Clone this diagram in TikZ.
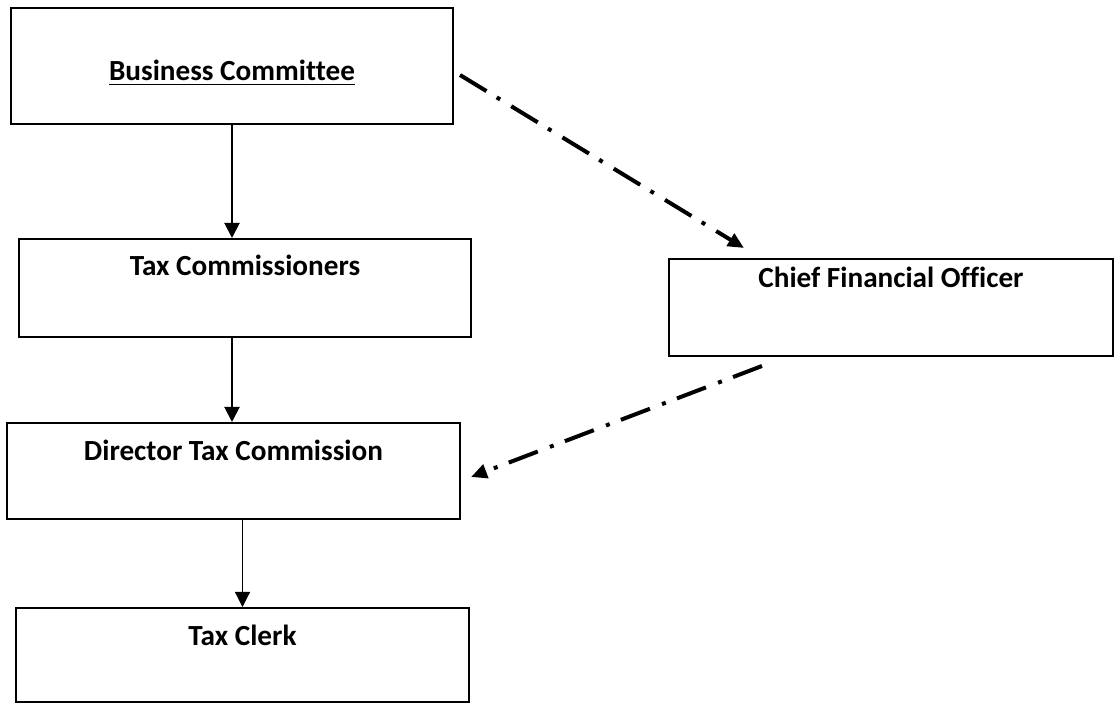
\documentclass[tikz,border=0pt]{standalone}
\usepackage{fontspec}
\setmainfont{Carlito}[Ligatures=NoCommon]
\usetikzlibrary{positioning, arrows.meta, calc}

\tikzset{
  office/.style={draw, line width=1pt, inner sep=0pt, anchor=north,
    font=\bfseries\fontsize{14.6}{17}\selectfont},
  reports/.style={-{Triangle[length=7.5pt,width=7.5pt]}, line width=1pt},
  advises/.style={-{Triangle[length=8pt,width=7pt]}, line width=2pt,
    dash pattern=on 15.5pt off 6pt on 2pt off 6.5pt},
}

\begin{document}
\begin{tikzpicture}[x=0.5pt, y=-0.5pt]
  \useasboundingbox (0,0) rectangle (1114,704);
  \node[office, minimum width=221pt, text height=36.5pt, text depth=21.5pt] (bc) at (232,7) {\underline{Business Committee}};
  \node[office, minimum width=226pt, text height=18.5pt, text depth=30.5pt] (tc) at (245,238) {Tax Commissioners};
  \node[office, minimum width=222pt, text height=14.5pt, text depth=34pt] (cfo) at (891,258) {Chief Financial Officer};
  \node[office, minimum width=226.5pt, text height=19pt, text depth=29pt] (dtc) at (233.5,422) {Director Tax Commission};
  \node[office, minimum width=226.5pt, text height=19pt, text depth=28pt] (clerk) at (242.5,607) {Tax Clerk};

  \coordinate (bcout) at ($(bc.east)+(6,9)$);
  \coordinate (cfoin) at ($(cfo.north west)+(76,-10)$);
  \coordinate (cfoout) at ($(cfo.south west)+(94,9)$);
  \coordinate (dtcin) at ($(dtc.east)+(10,6)$);

  \draw[reports] (bc.south) -- (bc.south |- tc.north);
  \draw[reports] (bc.south |- tc.south) -- (bc.south |- dtc.north);
  \draw[reports, line width=0.6pt] (clerk.north |- dtc.south) -- (clerk.north);
  \draw[advises] (bcout) -- (cfoin);
  \draw[advises] (cfoout) -- (dtcin);
\end{tikzpicture}
\end{document}
